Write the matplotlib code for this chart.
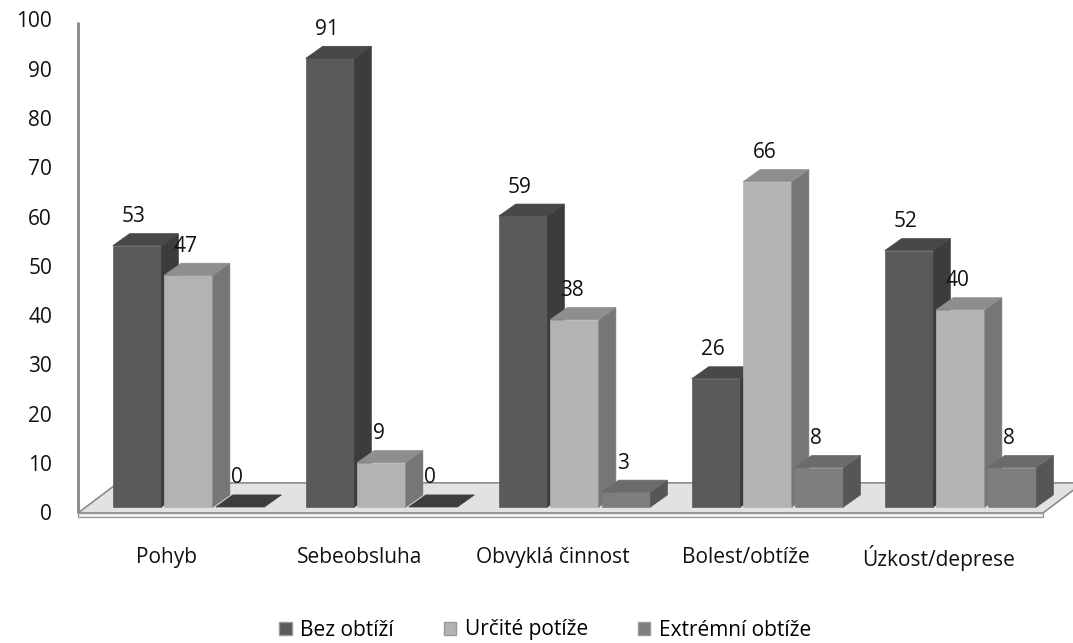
import matplotlib
matplotlib.use("Agg")
import matplotlib.pyplot as plt
from matplotlib.patches import Polygon, Patch

plt.rcParams['font.family'] = ['Open Sans', 'DejaVu Sans']

categories = ["Pohyb", "Sebeobsluha", "Obvyklá činnost", "Bolest/obtíže", "Úzkost/deprese"]
series_names = ["Bez obtíží", "Určité potíže", "Extrémní obtíže"]
bez_obtizi = [53, 91, 59, 26, 52]
urcite_potize = [47, 9, 38, 66, 40]
extremni_obtize = [0, 0, 3, 8, 8]
yticks = [0, 10, 20, 30, 40, 50, 60, 70, 80, 90, 100]

# front / top / side shades for each series
shades = [
    ("#5a5a5a", "#484848", "#3c3c3c"),
    ("#b3b3b3", "#8e8e8e", "#767676"),
    ("#7d7d7d", "#6b6b6b", "#565656"),
]

fig = plt.figure(figsize=(10.73, 6.43), dpi=100)
ax = fig.add_axes([0, 0, 1, 1])
ax.set_xlim(-190 / 193, (1073 - 190) / 193)
ax.set_ylim((507 - 643) / 4.93, 507 / 4.93)
ax.axis("off")

step = 0.267      # spacing between bars inside a group
width = 0.252     # bar width
dx, dy = 0.088, 2.45   # depth of the bars
fs = 15

# floor plate
fx0, fx1 = -0.580, 4.420
fy0, fy1 = -1.2, 4.9
fdx = 0.207
ax.add_patch(Polygon([(fx0, fy0), (fx1, fy0), (fx1 + fdx, fy1), (fx0 + fdx, fy1)],
                     closed=True, facecolor="#e2e2e2", edgecolor="#8c8c8c", lw=1.2, zorder=1))
ax.add_patch(Polygon([(fx0, fy0), (fx1, fy0), (fx1, fy0 - 0.9), (fx0, fy0 - 0.9)],
                     closed=True, facecolor="#f6f6f6", edgecolor="#9a9a9a", lw=1.0, zorder=1))

# vertical axis line
ax.plot([fx0, fx0], [fy0, 98.4], color="#868686", lw=2, zorder=2, solid_capstyle="butt")
for t in yticks:
    ax.text(-0.715, t - 1.6, str(t), ha="right", va="center", fontsize=fs, color="#111111")

all_series = [bez_obtizi, urcite_potize, extremni_obtize]
for i, cat in enumerate(categories):
    for k, vals in enumerate(all_series):
        v = vals[i]
        x0 = i + (k - 1.5) * step
        x1 = x0 + width
        front, top, side = shades[k]
        if v > 0:
            ax.add_patch(Polygon([(x0, 0), (x1, 0), (x1, v), (x0, v)], closed=True,
                                 facecolor=front, edgecolor=front, lw=0.5, zorder=3))
            ax.add_patch(Polygon([(x1, 0), (x1 + dx, dy), (x1 + dx, v + dy), (x1, v)], closed=True,
                                 facecolor=side, edgecolor=side, lw=0.5, zorder=3))
            ax.add_patch(Polygon([(x0, v), (x1, v), (x1 + dx, v + dy), (x0 + dx, v + dy)], closed=True,
                                 facecolor=top, edgecolor=top, lw=0.5, zorder=3))
        else:
            ax.add_patch(Polygon([(x0, v), (x1, v), (x1 + dx, v + dy), (x0 + dx, v + dy)], closed=True,
                                 facecolor="#3d3d3d", edgecolor="#3d3d3d", lw=0.5, zorder=3))
        ax.text(x0 + width / 2 - 0.016, v + 5.9, str(v), ha="center", va="center",
                fontsize=fs, color="#111111", zorder=5)
    ax.text(i - 0.12, -10.3, cat, ha="center", va="center", fontsize=fs, color="#111111")

handles = [Patch(facecolor=shades[k][0], edgecolor="#9a9a9a") for k in range(3)]
fig.legend(handles, series_names, loc="center", bbox_to_anchor=(0.508, 1 - 630 / 643),
           ncol=3, frameon=False, fontsize=fs, handlelength=0.6, handleheight=0.6,
           handletextpad=0.4, columnspacing=2.4)

fig.savefig("out.png", dpi=100)
